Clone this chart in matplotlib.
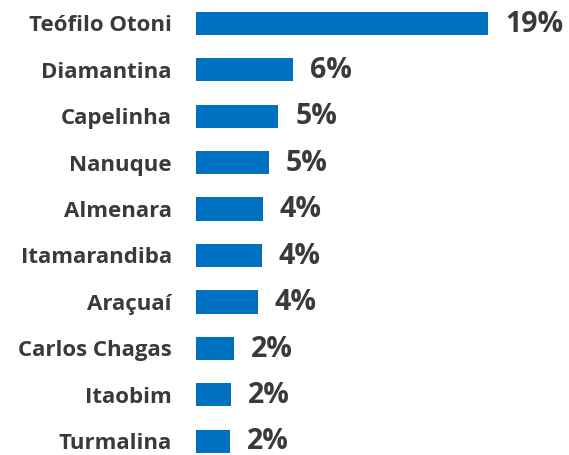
import matplotlib.pyplot as plt

cities = ['Teófilo Otoni', 'Diamantina', 'Capelinha', 'Nanuque', 'Almenara',
          'Itamarandiba', 'Araçuaí', 'Carlos Chagas', 'Itaobim', 'Turmalina']
shares = [19.0, 6.27, 5.33, 4.73, 4.32, 4.25, 4.0, 2.43, 2.26, 2.19]
labels = ['19%', '6%', '5%', '5%', '4%', '4%', '4%', '2%', '2%', '2%']

W, H = 569, 455
fig = plt.figure(figsize=(W / 100, H / 100), dpi=100)

# axes placed in pixel terms so bars line up with the reference
left = 196.3
px_per_unit = 15.37
xmax = 22
ax = fig.add_axes([left / W, 0, xmax * px_per_unit / W, 1])

ypos = list(range(len(cities)))
ax.barh(ypos, shares, height=0.5, color='#0070C0')

ax.set_xlim(0, xmax)
ax.set_ylim(9.297, -0.502)

ax.set_yticks(ypos)
ax.set_yticklabels(cities, fontsize=16, fontweight='bold', color='#3a3a3a',
                   family='Open Sans')
ax.tick_params(axis='y', length=0, pad=17.5)
ax.set_xticks([])

for y, v, lab in zip(ypos, shares, labels):
    ax.annotate(lab, (v, y), xytext=(12.2, -0.5), textcoords='offset points',
                ha='left', va='center', fontsize=20.5, fontweight='bold',
                color='#3a3a3a', family='Open Sans', annotation_clip=False)

for s in ax.spines.values():
    s.set_visible(False)

fig.savefig('out.png', dpi=100)
